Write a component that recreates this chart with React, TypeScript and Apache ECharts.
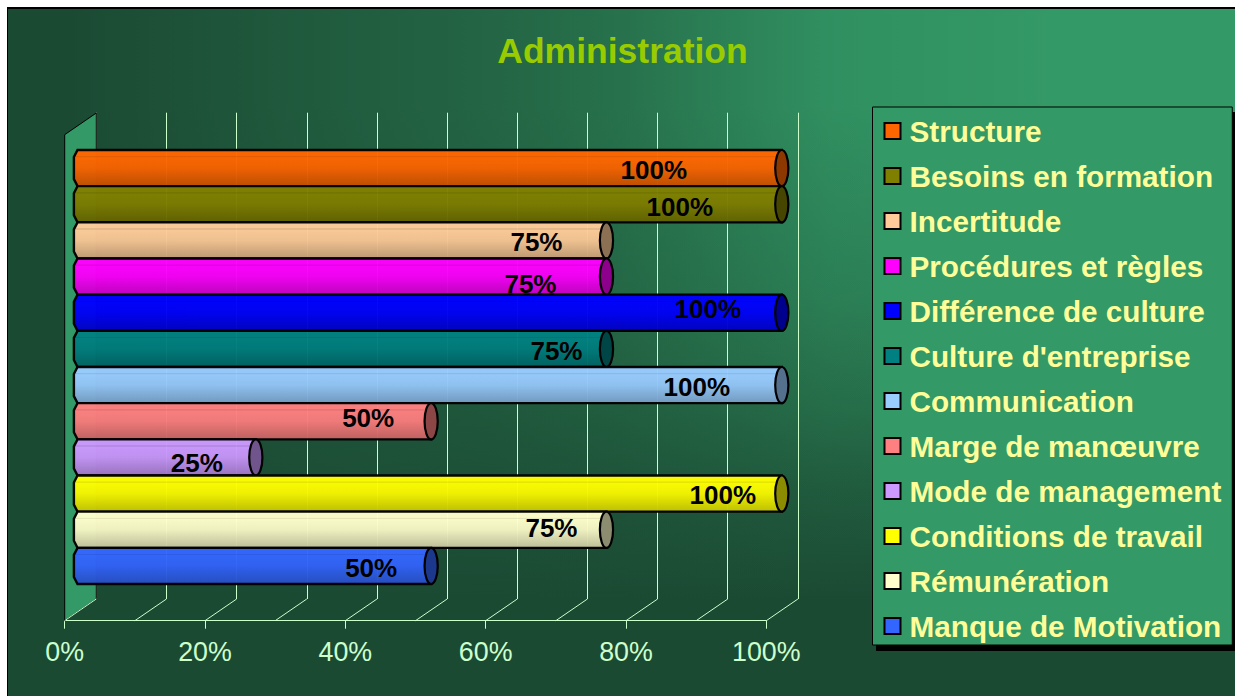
import React, { useEffect, useRef } from "react";
import * as echarts from "echarts";

const chartTitle = "Administration";
const categories = ["Structure", "Besoins en formation", "Incertitude", "Procédures et règles", "Différence de culture", "Culture d'entreprise", "Communication", "Marge de manœuvre", "Mode de management", "Conditions de travail", "Rémunération", "Manque de Motivation"];
const values = [100, 100, 75, 75, 100, 75, 100, 50, 25, 100, 75, 50];
const colors = ["#ff6600", "#808000", "#ffcc99", "#ff00ff", "#0000ff", "#008080", "#99ccff", "#ff8080", "#cc99ff", "#ffff00", "#ffffcc", "#3366ff"];
const labelNudgeX = [-128, -102, -70, -76, -74, -50, -85, -63, -59, -59, -55, -60];
const labelNudgeY = [2, 2.5, 1.5, 7.5, -4, 2, 2, -3.5, 6, 1, -2, 2.5];
const floorTicks = [0, 10, 20, 30, 40, 50, 60, 70, 80, 90, 100];

const FONT = '"Liberation Sans", Arial, sans-serif';
const DEPTH_X = 31.6;
const DEPTH_Y = -21.7;
const LIGHT = "#ccffcc";

function shade(hex: string, k: number) {
  const n = parseInt(hex.slice(1), 16);
  const c = [(n >> 16) & 255, (n >> 8) & 255, n & 255].map((v) => Math.round(v * k));
  return `rgb(${c[0]},${c[1]},${c[2]})`;
}

function barItem(color: string, nudgeX: number, nudgeY: number) {
  return (_params: any, api: any) => {
    const v = api.value(0);
    const end = api.coord([v, api.value(1)]);
    const start = api.coord([0, api.value(1)]);
    const h = api.size([0, 1])[1];
    const top = end[1] - h / 2;
    const bot = end[1] + h / 2;
    const rx = 6.6;
    const x0 = start[0];
    const x1 = end[0];
    const d = `M${x1} ${top}L${x0 - 3} ${top}L${x0 - rx} ${top + 7}L${x0 - rx} ${bot - 7}L${x0 - 3} ${bot}L${x1} ${bot}Z`;
    const grad = new echarts.graphic.LinearGradient(0, 0, 0, 1, [
      { offset: 0, color: shade(color, 1) },
      { offset: 0.16, color: shade(color, 1) },
      { offset: 0.17, color: shade(color, 0.92) },
      { offset: 0.2, color: shade(color, 0.92) },
      { offset: 0.21, color: shade(color, 1) },
      { offset: 0.5, color: shade(color, 0.96) },
      { offset: 1, color: shade(color, 0.76) },
    ]);
    return {
      type: "group",
      children: [
        { type: "path", shape: { pathData: d, layout: "cover", x: x0 - rx, y: top, width: x1 - x0 + rx, height: h }, style: { fill: grad, stroke: "#000", lineWidth: 2.4, opacity: 0.97 } },
        { type: "ellipse", shape: { cx: x1, cy: end[1], rx, ry: h / 2 }, style: { fill: shade(color, 0.55), stroke: "#000", lineWidth: 2.2 } },
        { type: "text", style: { text: `${v}%`, x: x1 + nudgeX, y: end[1] + nudgeY, font: `bold 26px ${FONT}`, fill: "#000", textAlign: "center", textVerticalAlign: "middle" } },
      ],
    };
  };
}

const wallItem = (_p: any, api: any) => {
  const a = api.coord([0, 0]);
  const b = api.coord([0, 1]);
  return {
    type: "polygon",
    shape: { points: [a, [a[0] + DEPTH_X, a[1] + DEPTH_Y], [b[0] + DEPTH_X, b[1] + DEPTH_Y], b] },
    style: { fill: "#339966", stroke: "#000", lineWidth: 1 },
  };
};

const floorItem = (_p: any, api: any) => {
  const a = api.coord([api.value(0), 0]);
  return {
    type: "line",
    shape: { x1: a[0], y1: a[1], x2: a[0] + DEPTH_X, y2: a[1] + DEPTH_Y },
    style: { stroke: LIGHT, lineWidth: 1 },
  };
};

const DARK = "27,74,51";
const bgHorizontal = `linear-gradient(to right, rgba(${DARK},1) 5%, rgba(${DARK},.8) 24%, rgba(${DARK},.65) 40%, rgba(${DARK},.5) 50%, rgba(${DARK},.12) 67%, rgba(${DARK},0) 85%)`;
const bgVertical = `linear-gradient(to bottom, rgba(${DARK},0) 14%, rgba(${DARK},.25) 42%, rgba(${DARK},.5) 58%, rgba(${DARK},.74) 69%, rgba(${DARK},1) 86%)`;

export default function App() {
  const ref = useRef<HTMLDivElement>(null);
  useEffect(() => {
    document.body.style.margin = "0";
    const chart = echarts.init(ref.current!, undefined, { renderer: "svg" });
    const hiddenY = { type: "value", min: 0, max: 1, show: false };
    const barSeries = categories.map((name, i) => ({
      name,
      type: "custom",
      xAxisIndex: 0,
      yAxisIndex: 0,
      z: 5,
      clip: false,
      silent: true,
      itemStyle: { color: colors[i] },
      encode: { x: 0, y: 1 },
      data: [[values[i], name]],
      renderItem: barItem(colors[i], labelNudgeX[i], labelNudgeY[i]),
    }));
    chart.setOption({
      animation: false,
      backgroundColor: "transparent",
      title: {
        text: chartTitle,
        left: 617.5,
        top: 28,
        textAlign: "center",
        textStyle: { color: "#99cc00", fontFamily: FONT, fontWeight: "bold", fontSize: 35.5 },
      },
      legend: {
        orient: "vertical",
        left: 872.5,
        top: 107,
        padding: [9, 11, 4, 11],
        backgroundColor: "#339966",
        borderColor: "#000",
        borderWidth: 1,
        itemWidth: 16,
        itemHeight: 16,
        itemGap: 15,
        selectedMode: false,
        itemStyle: { borderColor: "#000", borderWidth: 2 },
        icon: "rect",
        data: categories,
        z: 10,
        textStyle: { color: "#ffff99", fontFamily: FONT, fontWeight: "bold", fontSize: 29.7, lineHeight: 29, padding: [0, 0, 0, 4] },
      },
      graphic: [{ type: "rect", z: 1, shape: { x: 876, y: 112, width: 359, height: 539 }, style: { fill: "#000" } }],
      grid: [
        { left: 80.5, top: 150, width: 701.3, height: 434 },
        { left: 64.7, top: 134.7, width: 701.6, height: 486 },
        { left: 96.3, top: 112.7, width: 701.6, height: 486.3 },
      ],
      xAxis: [
        { gridIndex: 0, type: "value", min: 0, max: 100, show: false },
        {
          gridIndex: 1, type: "value", min: 0, max: 100, interval: 20,
          axisLine: { show: true, lineStyle: { color: LIGHT, width: 1 } },
          axisTick: { show: true, length: 8, lineStyle: { color: LIGHT, width: 1 } },
          splitLine: { show: false },
          axisLabel: { color: LIGHT, fontFamily: FONT, fontSize: 26.8, margin: 18, formatter: "{value}%" },
        },
        {
          gridIndex: 2, type: "value", min: 0, max: 100, interval: 10,
          axisLine: { show: false }, axisTick: { show: false }, axisLabel: { show: false },
          splitLine: { show: true, lineStyle: { color: LIGHT, width: 1 } },
        },
      ],
      yAxis: [
        { gridIndex: 0, type: "category", data: categories, inverse: true, show: false },
        { ...hiddenY, gridIndex: 1 },
        { ...hiddenY, gridIndex: 2 },
      ],
      series: [
        { type: "custom", xAxisIndex: 1, yAxisIndex: 1, z: 3, clip: false, silent: true, data: [[0, 0]], renderItem: wallItem },
        { type: "custom", xAxisIndex: 1, yAxisIndex: 1, z: 3, clip: false, silent: true, encode: { x: 0 }, data: floorTicks.map((t) => [t, 0]), renderItem: floorItem },
        ...barSeries,
      ],
    });
    return () => chart.dispose();
  }, []);
  return (
    <div style={{ position: "relative", width: 1235, height: 696, overflow: "hidden", background: "#fff" }}>
      <div
        style={{
          position: "absolute", left: 7, top: 7, width: 1228, height: 689, boxSizing: "border-box",
          borderLeft: "1.5px solid #000", borderTop: "2px solid #000",
          background: `${bgHorizontal}, ${bgVertical}, #339966`,
        }}
      />
      <div ref={ref} style={{ position: "absolute", left: 0, top: 0, width: 1235, height: 696 }} />
    </div>
  );
}
